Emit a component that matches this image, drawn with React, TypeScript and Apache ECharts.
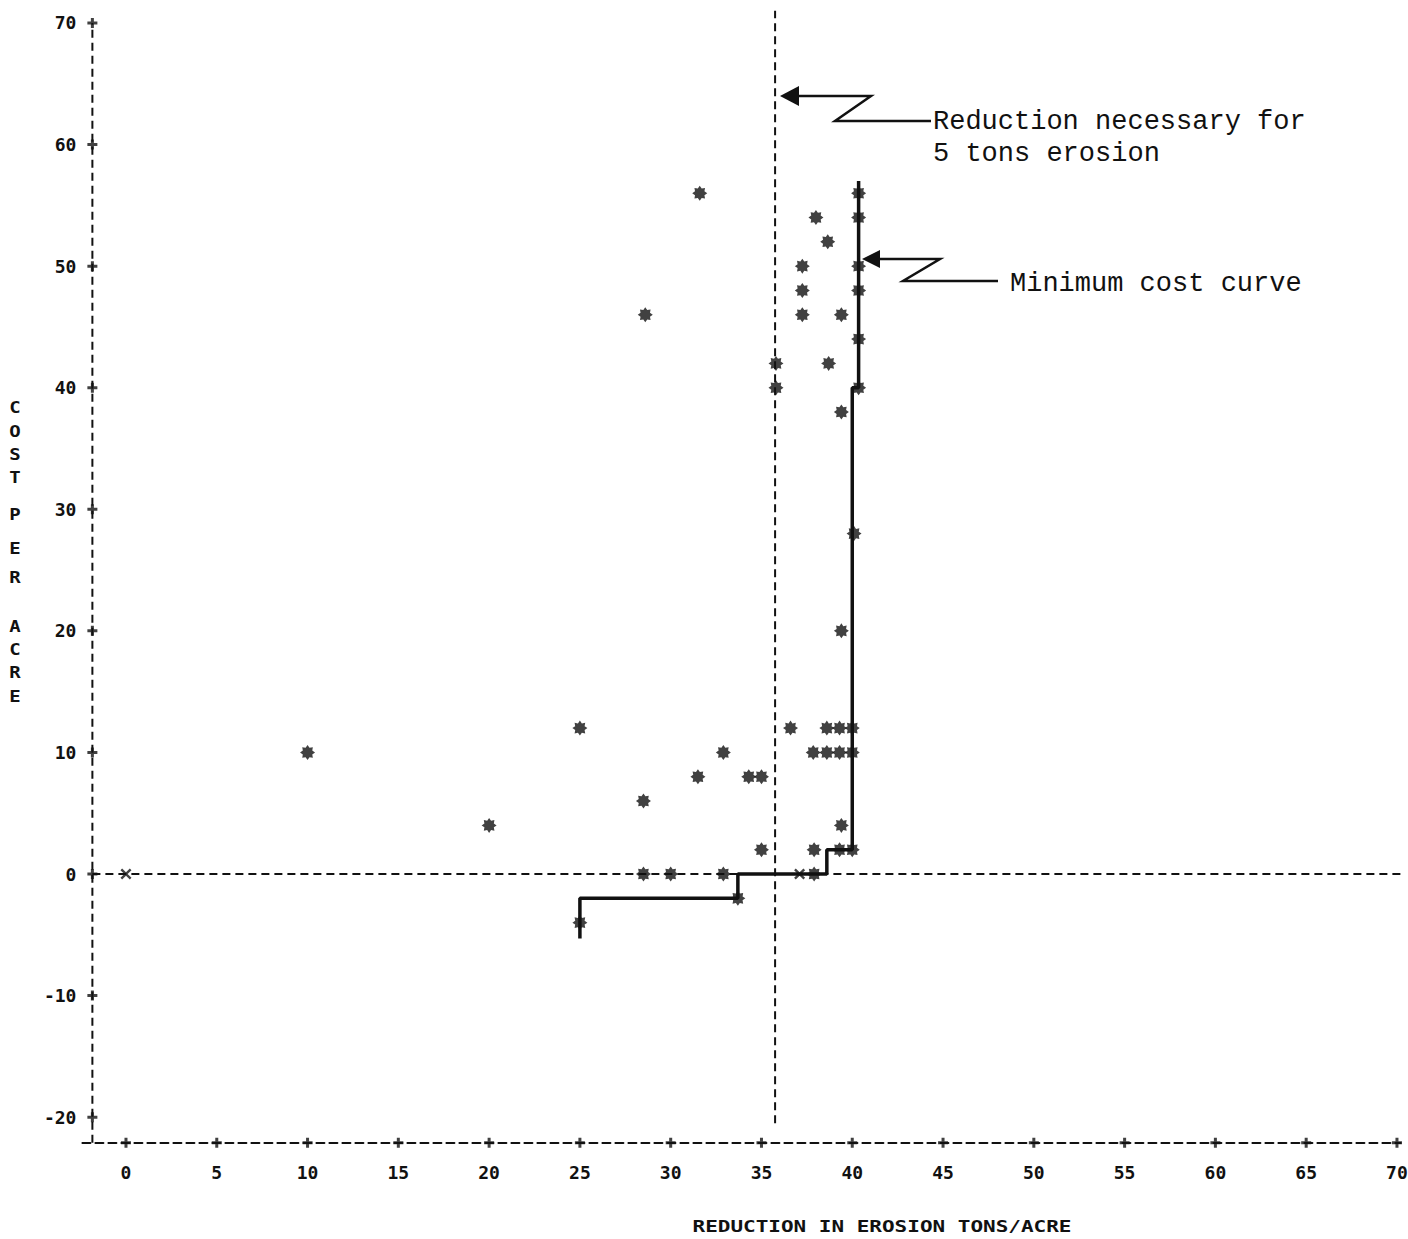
import React, { useEffect, useRef } from "react";
import * as echarts from "echarts";

// ---- data ----
const xTickValues = [0, 5, 10, 15, 20, 25, 30, 35, 40, 45, 50, 55, 60, 65, 70];
const yTickValues = [-20, -10, 0, 10, 20, 30, 40, 50, 60, 70];

// reduction in erosion (tons/acre), cost per acre
const starPoints: number[][] = [
  [10, 10], [20, 4], [25, 12], [31.6, 56], [28.6, 46], [32.9, 10], [31.5, 8],
  [28.5, 6], [34.3, 8], [35, 8], [35, 2], [36.6, 12], [28.5, 0], [30, 0],
  [32.9, 0], [33.7, -2], [25, -4],
  [35.8, 42], [35.8, 40], [38, 54], [38.65, 52], [37.25, 50], [37.25, 48],
  [37.25, 46], [39.4, 46], [38.7, 42], [39.4, 38],
  [38.6, 12], [39.3, 12], [40, 12], [37.85, 10], [38.6, 10], [39.3, 10], [40, 10],
  [39.4, 4], [37.9, 2], [39.3, 2], [40, 2], [37.9, 0],
  [40.1, 28], [39.4, 20],
  [40.35, 56], [40.35, 54], [40.35, 50], [40.35, 48], [40.35, 44], [40.35, 40],
];
const crossPoints: number[][] = [[0, 0], [37.1, 0]];

const minCostCurve: number[][] = [
  [25, -5.3], [25, -2], [33.7, -2], [33.7, 0], [38.6, 0], [38.6, 2],
  [40, 2], [40, 40], [40.35, 40], [40.35, 57],
];

const thresholdX = 35.75; // reduction necessary for 5 tons erosion
const thresholdRange = [-20.5, 71];
const zeroLineRange = [-1.85, 70.6];

const X_MIN = -2.4;
const X_MAX = 70.2;
const Y_MIN = -22.1;
const Y_MAX = 70.5;
const Y_AXIS_X = -1.85;

const yTitleLetters = ["C", "O", "S", "T", "P", "E", "R", "A", "C", "R", "E"];
const yTitleRows = [408, 432, 455, 478, 515, 549, 578, 627, 650, 673, 697];

// ---- style helpers ----
const INK = "#111";
const DASH = [8, 5];
const MONO = "'DejaVu Sans Mono', monospace";
const TYPE = "'Liberation Mono', 'Courier New', monospace";

function starPath(): string {
  const n = 16;
  let d = "";
  for (let i = 0; i < n; i++) {
    const a = (i * Math.PI) / 8 - Math.PI / 2;
    const r = i % 2 === 0 ? 10 : 6.8;
    const x = (10 + r * Math.cos(a)).toFixed(2);
    const y = (10 + r * Math.sin(a)).toFixed(2);
    d += (i === 0 ? "M" : "L") + x + "," + y;
  }
  return "path://" + d + "Z";
}

const PLUS = "path://M3.5,0H6.5V3.5H10V6.5H6.5V10H3.5V6.5H0V3.5H3.5Z";
const CROSS = "path://M0,1.5L1.5,0L5,3.5L8.5,0L10,1.5L6.5,5L10,8.5L8.5,10L5,6.5L1.5,10L0,8.5L3.5,5Z";

export default function App() {
  const ref = useRef<HTMLDivElement>(null);

  useEffect(() => {
    if (!ref.current) return;
    const chart = echarts.init(ref.current, null, { renderer: "svg" });

    const graphic: any[] = [];
    yTitleLetters.forEach((ch, i) => {
      graphic.push({
        type: "text",
        x: 15,
        y: yTitleRows[i],
        scaleY: 0.85,
        style: { text: ch, font: `bold 19px ${MONO}`, fill: INK, align: "center", verticalAlign: "middle" },
      });
    });
    graphic.push({
      type: "text",
      x: 882,
      y: 1226,
      scaleY: 0.75,
      style: {
        text: "REDUCTION IN EROSION TONS/ACRE",
        font: `bold 21px ${MONO}`,
        fill: INK,
        align: "center",
        verticalAlign: "middle",
      },
    });
    // annotation 1
    graphic.push({
      type: "text",
      x: 933,
      y: 106,
      style: {
        text: "Reduction necessary for\n5 tons erosion",
        font: `27px ${TYPE}`,
        lineHeight: 32,
        fill: INK,
        align: "left",
        verticalAlign: "top",
      },
    });
    graphic.push({
      type: "polyline",
      shape: { points: [[931, 121], [835, 121], [871, 96], [795, 96]] },
      style: { stroke: INK, lineWidth: 2.5, fill: null },
    });
    graphic.push({
      type: "polygon",
      shape: { points: [[780, 96], [799, 86], [799, 106]] },
      style: { fill: INK },
    });
    // annotation 2
    graphic.push({
      type: "text",
      x: 1010,
      y: 270,
      style: {
        text: "Minimum cost curve",
        font: `27px ${TYPE}`,
        fill: INK,
        align: "left",
        verticalAlign: "top",
      },
    });
    graphic.push({
      type: "polyline",
      shape: { points: [[998, 281], [903, 281], [940, 259], [876, 259]] },
      style: { stroke: INK, lineWidth: 2.5, fill: null },
    });
    graphic.push({
      type: "polygon",
      shape: { points: [[862, 259], [880, 250], [880, 268]] },
      style: { fill: INK },
    });

    const dashedLine = (data: number[][]) => ({
      type: "line",
      data,
      symbol: "none",
      silent: true,
      clip: false,
      lineStyle: { color: INK, width: 2, type: DASH },
      z: 1,
    });

    chart.setOption({
      animation: false,
      backgroundColor: "#fff",
      grid: { left: 82.4, right: 7.4, top: 16.9, height: 1125.8, outerBoundsMode: "none" },
      xAxis: {
        type: "value",
        min: X_MIN,
        max: X_MAX,
        axisLine: { show: true, onZero: false, lineStyle: { color: INK, width: 2, type: DASH } },
        axisTick: { show: false },
        splitLine: { show: false },
        axisLabel: {
          customValues: xTickValues,
          margin: 21,
          fontFamily: MONO,
          fontWeight: "bold",
          fontSize: 18,
          color: INK,
        },
      },
      yAxis: {
        type: "value",
        min: Y_MIN,
        max: Y_MAX,
        offset: -10,
        axisLine: { show: false, onZero: false },
        axisTick: { show: false },
        splitLine: { show: false },
        axisLabel: {
          customValues: yTickValues,
          margin: 16,
          fontFamily: MONO,
          fontWeight: "bold",
          fontSize: 18,
          color: INK,
        },
      },
      series: [
        dashedLine([[Y_AXIS_X, Y_MIN], [Y_AXIS_X, 70]]),
        dashedLine([[zeroLineRange[0], 0], [zeroLineRange[1], 0]]),
        dashedLine([[thresholdX, thresholdRange[0]], [thresholdX, thresholdRange[1]]]),
        {
          type: "line",
          data: minCostCurve,
          symbol: "none",
          silent: true,
          clip: false,
          lineStyle: { color: INK, width: 3.5 },
          z: 3,
        },
        {
          type: "scatter",
          data: starPoints,
          symbol: starPath(),
          symbolSize: 15,
          itemStyle: { color: INK },
          clip: false,
          z: 4,
        },
        {
          type: "scatter",
          data: crossPoints,
          symbol: CROSS,
          symbolSize: 11,
          itemStyle: { color: INK },
          clip: false,
          z: 4,
        },
        {
          type: "scatter",
          data: xTickValues.map((v) => [v, Y_MIN]),
          symbol: PLUS,
          symbolSize: 10,
          itemStyle: { color: INK },
          clip: false,
          silent: true,
          z: 2,
        },
        {
          type: "scatter",
          data: yTickValues.map((v) => [Y_AXIS_X, v]),
          symbol: PLUS,
          symbolSize: 10,
          itemStyle: { color: INK },
          clip: false,
          silent: true,
          z: 2,
        },
      ],
      graphic,
    });

    return () => chart.dispose();
  }, []);

  return (
    <div
      ref={ref}
      style={{ position: "absolute", left: 0, top: 0, width: 1408, height: 1239, background: "#fff" }}
    />
  );
}
